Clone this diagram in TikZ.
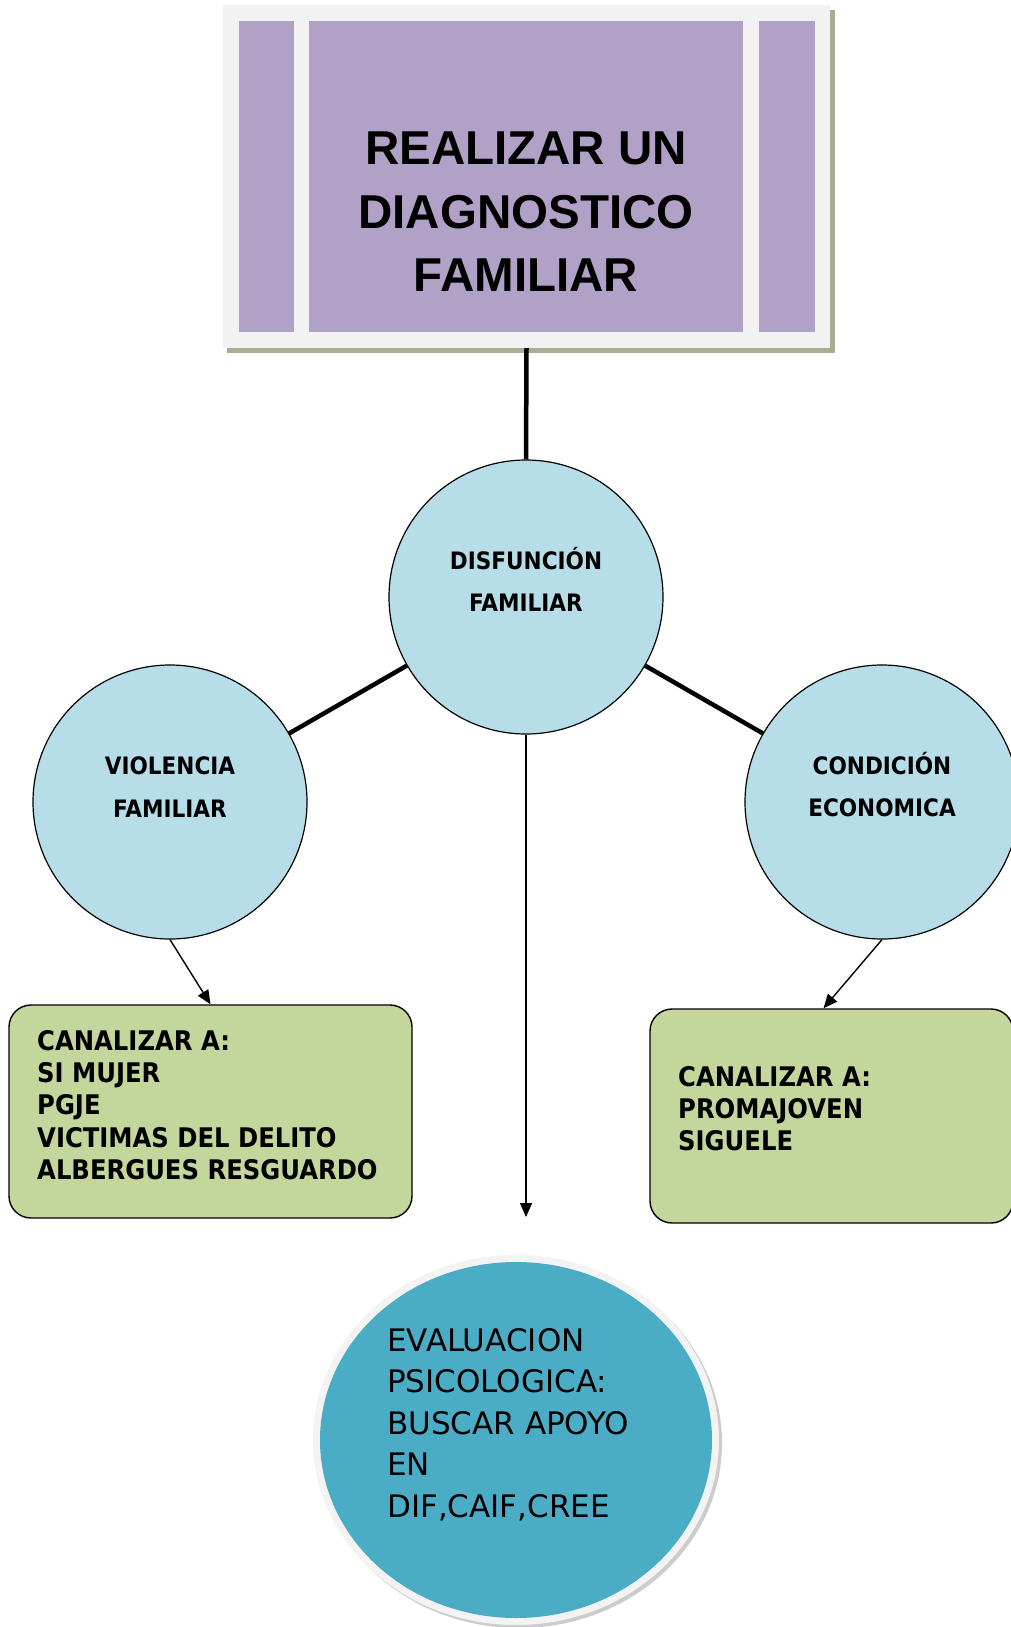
\documentclass[tikz,border=0pt]{standalone}
\usepackage{fontspec}
\usetikzlibrary{arrows.meta,shapes.geometric,calc}
\newfontfamily\titlefont{Liberation Sans}
\newfontfamily\boxfont{DejaVu Sans}[FakeStretch=0.9]
\newfontfamily\evalfont{DejaVu Sans}
\definecolor{purp}{HTML}{B2A1C7}
\definecolor{graybg}{HTML}{F2F2F2}
\definecolor{shadowc}{HTML}{A5AF91}
\definecolor{lblue}{HTML}{B7DEE8}
\definecolor{lgreen}{HTML}{C3D69B}
\definecolor{evalblue}{HTML}{4BACC6}
\definecolor{rimc}{HTML}{F3F3F3}
\begin{document}
\begin{tikzpicture}[x=1pt,y=-1pt,
  thickline/.style={line width=4.5pt},
  arr/.style={line width=1.4pt,-{Triangle[length=14pt,width=12pt]}},
  bubble/.style={circle,draw=black,line width=1.2pt,fill=lblue,minimum size=274pt,inner sep=0pt},
  greenbox/.style={rectangle,rounded corners=22pt,draw=black,line width=1.4pt,fill=lgreen,inner sep=0pt},
  circtext/.style={font=\boxfont\bfseries\fontsize{24}{42.5}\selectfont,align=center,inner sep=0pt},
  boxtext/.style={font=\boxfont\bfseries\fontsize{27}{32.2}\selectfont,align=left,inner sep=0pt,anchor=north west},
  evaltext/.style={font=\evalfont\fontsize{31}{41.5}\selectfont,align=left,inner sep=0pt,anchor=north west},
  titletext/.style={font=\titlefont\bfseries\fontsize{47.5}{63.5}\selectfont,align=center,inner sep=0pt}]
\useasboundingbox (0,0) rectangle (1011,1627);
\clip (0,0) rectangle (1011,1627);
% title block
\fill[shadowc] (227,10) rectangle (835,353);
\node[fill=graybg,minimum width=607pt,minimum height=343pt,inner sep=0pt] (title) at (526.5,176.5) {};
\fill[purp] (239,21) rectangle (294,332);
\fill[purp] (309,21) rectangle (743,332);
\fill[purp] (759,21) rectangle (815,332);
\node[titletext] (titletxt) at (526,212) {REALIZAR UN\\DIAGNOSTICO\\FAMILIAR};
% circles
\node[bubble] (dc) at (526,597) {};
\node[bubble] (vl) at (170,802) {};
\node[bubble] (ce) at (882,802) {};
\draw[thickline] (title.south) -- (dc.north);
\draw[thickline] (dc) -- (vl);
\draw[thickline] (dc) -- (ce);
\node[circtext] (dctext) at (526,579.4) {DISFUNCIÓN\\FAMILIAR};
\node[circtext] (vltext) at (170,787) {VIOLENCIA\\FAMILIAR};
\node[circtext] (cetext) at (882,784.4) {CONDICIÓN\\ECONOMICA};
% boxes
\node[greenbox,minimum width=403pt,minimum height=213pt] (lbox) at (210.5,1111.5) {};
\node[greenbox,minimum width=363pt,minimum height=214pt] (rbox) at (831.5,1116) {};
\node[boxtext] (lboxtext) at (37,1030.2) {CANALIZAR A:\\SI MUJER\\PGJE\\VICTIMAS DEL DELITO\\ALBERGUES RESGUARDO};
\node[boxtext] (rboxtext) at (678,1066.2) {CANALIZAR A:\\PROMAJOVEN\\SIGUELE};
% arrows
\draw[arr] (vl.south) -- (lbox.north);
\draw[arr] (ce.south) -- ($(rbox.north)+(-8,0)$);
\coordinate (arrend) at (526,1217);
\draw[arr] (dc.south) -- (arrend);
% bottom ellipse
\fill[gray!40] (519,1443) ellipse [x radius=203, y radius=185];
\fill[rimc] (516,1440) ellipse [x radius=203, y radius=185];
\node[ellipse,fill=evalblue,minimum width=392pt,minimum height=356pt,inner sep=0pt] (eval) at (516,1440) {};
\node[evaltext] (evaltxt) at (387,1328) {EVALUACION\\PSICOLOGICA:\\BUSCAR APOYO\\EN\\DIF,CAIF,CREE};
\end{tikzpicture}
\end{document}
